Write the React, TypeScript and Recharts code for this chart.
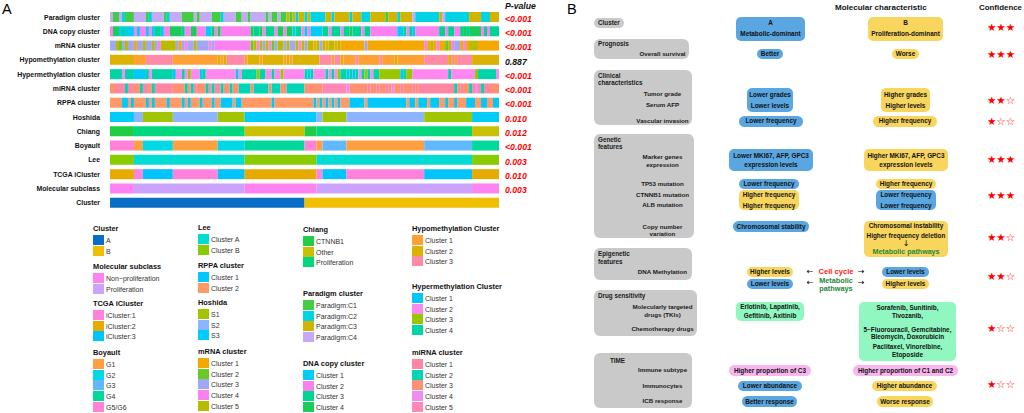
import React from 'react';
import { BarChart, Bar, XAxis, YAxis, Cell } from 'recharts';

// ---- Panel A: annotation heatmap ----
const rowNames = [
  'Paradigm cluster', 'DNA copy cluster', 'mRNA cluster', 'Hypomethylation cluster',
  'Hypermethylation cluster', 'miRNA cluster', 'RPPA cluster', 'Hoshida', 'Chiang',
  'Boyault', 'Lee', 'TCGA iCluster', 'Molecular subclass', 'Cluster',
];
const pValues = ['<0.001', '<0.001', '<0.001', '0.887', '<0.001', '<0.001', '<0.001',
  '0.010', '0.012', '<0.001', '0.003', '0.010', '0.003', ''];

// one character per sample column (130 columns), digit = cluster index
const paradigmCols = '4114211144 4412444412 4444111141 4444111244 4411441444 4414114113 1323323222 2233233333 2333222333 3313332333 3422222222 3422222222 3333222333';
const dnaCols = '2441311121 2212133122 4444322442 2211424222 2222222433 4233324424 4133212111 1332333233 4333233222 2222221132 3122222222 3323322343 4444232333';
const mrnaCols = '3352353313 3533534555 5531343353 3334344444 4444444254 5354235535 3354535515 3515515111 1111131111 1111111111 1111141514 1125433141 5551111111';
const hypoCols = '2222222211 1133333333 3111111111 1111112123 3333312222 1222222212 1222222222 3333133211 1131111111 3111121111 1111133333 3332313333 3222222222';
const hyperCols = '4444244411 1142444444 4122423222 1422222222 2212444443 4422422322 2222241422 2242423441 4142434244 3333333143 3222222222 2224222222 2234444442';
const mirnaCols = '3311121133 2113211111 1333323213 3321211233 2332222322 2223222332 2222233333 3555555554 3333331331 3313433133 3131111111 1111123133 2141211333';
const rppaCols = '2222112122 2212122221 2222121222 1222122111 1211222222 2222122222 2222222212 1212121222 1111121111 1111111112 1121112111 2212212221 1122112211';

// [cluster index, number of columns]
const hoshidaRuns: [number, number][] = [[3, 8], [2, 3], [1, 10], [2, 15], [1, 9], [3, 24], [2, 2], [1, 8], [2, 26], [1, 16], [3, 9]];
const chiangRuns: [number, number][] = [[1, 8], [3, 37], [2, 20], [1, 4], [3, 52], [2, 9]];
const boyaultRuns: [number, number][] = [[5, 8], [1, 3], [2, 10], [1, 15], [2, 9], [4, 20], [5, 4], [1, 2], [3, 8], [1, 26], [3, 16], [4, 9]];
const leeRuns: [number, number][] = [[2, 8], [1, 37], [2, 24], [1, 52], [2, 9]];
const tcgaRuns: [number, number][] = [[2, 8], [1, 3], [3, 10], [1, 15], [3, 9], [2, 24], [1, 2], [3, 8], [1, 26], [3, 16], [2, 9]];
const subclassRuns: [number, number][] = [[1, 8], [2, 37], [1, 24], [2, 52], [1, 9]];
const clusterRuns: [number, number][] = [[1, 65], [2, 65]];

const paradigmColors = ['#44cc44', '#00d4e4', '#d2b400', '#c4aaf8'];
const dnaColors = ['#00ccf5', '#fb80f0', '#00d494', '#1ccc5a'];
const mrnaColors = ['#f5a800', '#66cc22', '#a0a8f5', '#fb80f0', '#b9bb00'];
const hypoColors = ['#ffa035', '#dcb200', '#ff8aa8'];
const hyperColors = ['#00c8fa', '#ff88f0', '#99c600', '#00d5aa'];
const mirnaColors = ['#ff86a2', '#00d6b6', '#ff9072', '#ef8cf2', '#ff88b6'];
const rppaColors = ['#00c8fa', '#ff9966'];
const hoshidaColors = ['#a3c400', '#8cb4ff', '#00ccfa'];
const chiangColors = ['#22cc44', '#c8c000', '#00d87e'];
const boyaultColors = ['#ffa040', '#00d8e6', '#60b8ff', '#00d89c', '#ff82d6'];
const leeColors = ['#00dcd4', '#88cc00'];
const tcgaColors = ['#ff82dc', '#e6aa00', '#00c4fa'];
const subclassColors = ['#ff82f2', '#cca2ff'];
const clusterColors = ['#0a6ec4', '#f0c000'];

const toRuns = (s: string): [number, number][] => {
  const runs: [number, number][] = [];
  for (const ch of s.replace(/\s/g, '')) {
    const v = Number(ch);
    if (runs.length && runs[runs.length - 1][0] === v) runs[runs.length - 1][1] += 1;
    else runs.push([v, 1]);
  }
  return runs;
};

const rowRuns = [
  toRuns(paradigmCols), toRuns(dnaCols), toRuns(mrnaCols), toRuns(hypoCols), toRuns(hyperCols),
  toRuns(mirnaCols), toRuns(rppaCols), hoshidaRuns, chiangRuns, boyaultRuns, leeRuns, tcgaRuns,
  subclassRuns, clusterRuns,
];
const rowPalettes = [paradigmColors, dnaColors, mrnaColors, hypoColors, hyperColors, mirnaColors,
  rppaColors, hoshidaColors, chiangColors, boyaultColors, leeColors, tcgaColors, subclassColors, clusterColors];

const maxRuns = Math.max(...rowRuns.map((r) => r.length));
const heatData = rowNames.map((name, i) => {
  const d: Record<string, any> = { name };
  for (let k = 0; k < maxRuns; k++) d['r' + k] = rowRuns[i][k] ? rowRuns[i][k][1] : 0;
  return d;
});
const runKeys = Array.from({ length: maxRuns }, (_, k) => k);

const legendGroups = [
  { title: 'Cluster', labels: ['A', 'B'], colors: clusterColors },
  { title: 'Molecular subclass', labels: ['Non−proliferation', 'Proliferation'], colors: subclassColors },
  { title: 'TCGA iCluster', labels: ['iCluster:1', 'iCluster:2', 'iCluster:3'], colors: tcgaColors },
  { title: 'Boyault', labels: ['G1', 'G2', 'G3', 'G4', 'G5/G6'], colors: boyaultColors },
  { title: 'Lee', labels: ['Cluster A', 'Cluster B'], colors: leeColors },
  { title: 'RPPA cluster', labels: ['Cluster 1', 'Cluster 2'], colors: rppaColors },
  { title: 'Hoshida', labels: ['S1', 'S2', 'S3'], colors: hoshidaColors },
  { title: 'mRNA cluster', labels: ['Cluster 1', 'Cluster 2', 'Cluster 3', 'Cluster 4', 'Cluster 5'], colors: mrnaColors },
  { title: 'Chiang', labels: ['CTNNB1', 'Other', 'Proliferation'], colors: chiangColors },
  { title: 'Paradigm cluster', labels: ['Paradigm:C1', 'Paradigm:C2', 'Paradigm:C3', 'Paradigm:C4'], colors: paradigmColors },
  { title: 'DNA copy cluster', labels: ['Cluster 1', 'Cluster 2', 'Cluster 3', 'Cluster 4'], colors: dnaColors },
  { title: 'Hypomethylation Cluster', labels: ['Cluster 1', 'Cluster 2', 'Cluster 3'], colors: hypoColors },
  { title: 'Hypermethylation Cluster', labels: ['Cluster 1', 'Cluster 2', 'Cluster 3', 'Cluster 4'], colors: hyperColors },
  { title: 'miRNA cluster', labels: ['Cluster 1', 'Cluster 2', 'Cluster 3', 'Cluster 4', 'Cluster 5'], colors: mirnaColors },
];
// [x, title center y]
const legendPlace = [[93, 229], [93, 267], [93, 304], [93, 353], [198, 228], [198, 266], [198, 303],
  [198, 352], [303, 230], [303, 294], [303, 364], [412, 229], [412, 287], [412, 353]];

// ---- Panel B: molecular characteristics ----
const BLUE = '#5aa6e0';
const YEL = '#f8d65e';
const GRN = '#8ff7bf';
const PNK = '#f8b6ef';
const GRY = '#c9c9c9';

const confidence = [3, 3, 2, 1, 3, 3, 2, 2, 1, 1];
const confidenceY = [27, 54, 100, 121, 159, 195, 237, 276, 328, 384];

const grayBoxes = [
  { x: 594, y: 18, w: 30, h: 10 },
  { x: 594, y: 39, w: 95, h: 20 },
  { x: 594, y: 70, w: 98, h: 55 },
  { x: 594, y: 134, w: 100, h: 104 },
  { x: 594, y: 248, w: 98, h: 32 },
  { x: 594, y: 290, w: 103, h: 46 },
  { x: 594, y: 353, w: 98, h: 55 },
];
const groupTitles: [string, number, number][] = [
  ['Cluster', 598, 23], ['Prognosis', 598, 44], ['Clinical', 598, 76], ['characteristics', 598, 83],
  ['Genetic', 598, 140], ['features', 598, 147], ['Epigenetic', 598, 254], ['features', 598, 262],
  ['Drug sensitivity', 598, 296], ['TIME', 610, 361],
];
const featureLabels: [string, number][] = [
  ['Overall survival', 54], ['Tumor grade', 94], ['Serum AFP', 105], ['Vascular invasion', 121],
  ['Marker genes', 157], ['expression', 165], ['TP53 mutation', 184], ['CTNNB1 mutation', 195],
  ['ALB mutation', 205], ['Copy number', 227], ['variation', 234], ['DNA Methylation', 272],
  ['Molecularly targeted', 307], ['drugs (TKIs)', 315], ['Chemotherapy drugs', 329],
  ['Immune subtype', 370], ['Immunocytes', 386], ['ICB response', 401],
];

type Pill = { cx: number; cy: number; w: number; h: number; c: string; lines: string[]; ys?: number[]; r?: number };
const pills: Pill[] = [
  { cx: 770.5, cy: 29, w: 69, h: 24, c: BLUE, lines: ['A', 'Metabolic-dominant'], ys: [23, 34], r: 5 },
  { cx: 905.5, cy: 29, w: 75, h: 24, c: YEL, lines: ['B', 'Proliferation-dominant'], ys: [23, 34], r: 5 },
  { cx: 770, cy: 54, w: 26, h: 10, c: BLUE, lines: ['Better'] },
  { cx: 905.5, cy: 54, w: 27, h: 10, c: YEL, lines: ['Worse'] },
  { cx: 770, cy: 100, w: 46, h: 24, c: BLUE, lines: ['Lower grades', 'Lower levels'], ys: [94.5, 105.5], r: 5 },
  { cx: 905.5, cy: 100, w: 49, h: 24, c: YEL, lines: ['Higher grades', 'Higher levels'], ys: [94.5, 105.5], r: 5 },
  { cx: 771, cy: 121, w: 64, h: 11, c: BLUE, lines: ['Lower frequency'] },
  { cx: 905, cy: 121, w: 64, h: 11, c: YEL, lines: ['Higher frequency'] },
  { cx: 771, cy: 160, w: 84, h: 22, c: BLUE, lines: ['Lower MKI67, AFP, GPC3', 'expression levels'], ys: [156, 164.5], r: 5 },
  { cx: 906, cy: 160, w: 84, h: 22, c: YEL, lines: ['Higher MKI67, AFP, GPC3', 'expression levels'], ys: [156, 164.5], r: 5 },
  { cx: 769, cy: 184, w: 60, h: 10, c: BLUE, lines: ['Lower frequency'] },
  { cx: 906, cy: 184, w: 60, h: 10, c: YEL, lines: ['Higher frequency'] },
  { cx: 769, cy: 200, w: 60, h: 20, c: YEL, lines: ['Higher frequency', 'Higher frequency'], ys: [195, 205.5], r: 5 },
  { cx: 906, cy: 200, w: 60, h: 20, c: BLUE, lines: ['Lower frequency', 'Lower frequency'], ys: [195, 205.5], r: 5 },
  { cx: 771, cy: 226.5, w: 76, h: 11, c: BLUE, lines: ['Chromosomal stability'] },
  { cx: 906, cy: 239, w: 84, h: 36, c: YEL, lines: ['Chromosomal instability', 'Higher frequency deletion'], ys: [225.5, 235.5], r: 5 },
  { cx: 770, cy: 272, w: 46, h: 10, c: YEL, lines: ['Higher levels'] },
  { cx: 770, cy: 283.5, w: 46, h: 10, c: BLUE, lines: ['Lower levels'] },
  { cx: 905.5, cy: 272, w: 47, h: 10, c: BLUE, lines: ['Lower levels'] },
  { cx: 905.5, cy: 283.5, w: 47, h: 10, c: YEL, lines: ['Higher levels'] },
  { cx: 770, cy: 311.5, w: 68, h: 19, c: GRN, lines: ['Erlotinib, Lapatinib,', 'Gefitinib, Axitinib'], ys: [307, 315.5], r: 5 },
  { cx: 907.5, cy: 331.5, w: 97, h: 59, c: GRN, lines: ['Sorafenib, Sunitinib,', 'Tivozanib,', '5−Fluorouracil, Gemcitabine,', 'Bleomycin, Doxorubicin', 'Paclitaxel, Vinorelbine,', 'Etoposide'], ys: [307.5, 315.5, 329.5, 337, 347, 355], r: 5 },
  { cx: 770, cy: 370.5, w: 82, h: 11, c: PNK, lines: ['Higher proportion of C3'] },
  { cx: 905.5, cy: 370.5, w: 105, h: 11, c: PNK, lines: ['Higher proportion of C1 and C2'] },
  { cx: 770, cy: 386, w: 64, h: 10, c: BLUE, lines: ['Lower abundance'] },
  { cx: 904.5, cy: 386, w: 65, h: 10, c: YEL, lines: ['Higher abundance'] },
  { cx: 769.5, cy: 401.5, w: 55, h: 11, c: BLUE, lines: ['Better response'] },
  { cx: 905, cy: 401.5, w: 56, h: 11, c: YEL, lines: ['Worse response'] },
];

const FONT = '"Liberation Sans", Arial, Helvetica, sans-serif';
const SYM = '"DejaVu Sans", sans-serif';

// text centred vertically on y; horizontal anchor inside a wide fixed box so nothing is clipped
function Txt({ x, y, a = 'start', s = 6.4, w = 700, c = '#111', it = false, f, children }: any) {
  const box = 200;
  const left = a === 'middle' ? x - box / 2 : a === 'end' ? x - box : x;
  const align = a === 'middle' ? 'center' : a === 'end' ? 'right' : 'left';
  return (
    <div
      style={{
        position: 'absolute', left, top: y, width: box, transform: 'translateY(-50%)', textAlign: align,
        fontSize: s, fontWeight: w, color: c, whiteSpace: 'nowrap', lineHeight: 1,
        fontStyle: it ? 'italic' : 'normal', fontFamily: f || FONT,
      }}
    >
      {children}
    </div>
  );
}

const RowTick = (props: any) => {
  const { y, payload } = props;
  const p = pValues[rowNames.indexOf(payload.value)];
  return (
    <g>
      <text x={100} y={y} dy="0.36em" textAnchor="end" fill="#111"
        style={{ fontFamily: FONT, fontSize: 6.9, fontWeight: 700 }}>
        {payload.value}
      </text>
      {p ? (
        <text x={505} y={y + 1.5} dy="0.36em" fill={p === '0.887' ? '#111' : '#ff0000'}
          style={{ fontFamily: FONT, fontSize: 8.7, fontWeight: 700, fontStyle: 'italic' }}>
          {p}
        </text>
      ) : null}
    </g>
  );
};

function Heatmap() {
  return (
    <div style={{ position: 'absolute', left: 0, top: 0 }}>
      <BarChart width={545} height={215} data={heatData} layout="vertical"
        margin={{ top: 10, right: 46, bottom: 5, left: 0 }}>
        <XAxis type="number" domain={[0, 130]} hide />
        <YAxis type="category" dataKey="name" width={110} axisLine={false} tickLine={false}
          interval={0} tick={<RowTick />} />
        {runKeys.map((k) => (
          <Bar key={k} dataKey={'r' + k} stackId="s" barSize={10} isAnimationActive={false}>
            {heatData.map((_, i) => {
              const run = rowRuns[i][k];
              return <Cell key={i} fill={run ? rowPalettes[i][run[0] - 1] : 'none'} />;
            })}
          </Bar>
        ))}
      </BarChart>
    </div>
  );
}

function HeatLegend() {
  return (
    <>
      {legendGroups.map((g, gi) => {
        const [x, ty] = legendPlace[gi];
        return (
          <React.Fragment key={gi}>
            <Txt x={x} y={ty} s={7.4} c="#111">{g.title}</Txt>
            {g.labels.map((lab, li) => {
              const cy = ty + 11 + li * 10.7;
              return (
                <React.Fragment key={li}>
                  <div style={{ position: 'absolute', left: x, top: cy - 5.1, width: 10.5, height: 10.2, background: g.colors[li] }} />
                  <Txt x={x + 13} y={cy} s={7} w={400} c="#333">{lab}</Txt>
                </React.Fragment>
              );
            })}
          </React.Fragment>
        );
      })}
    </>
  );
}

function PanelB() {
  return (
    <>
      <Txt x={835} y={8} s={8} c="#111">Molecular characteristic</Txt>
      <Txt x={1022} y={8} a="end" s={7.9} c="#111">Confidence</Txt>
      {grayBoxes.map((b, i) => (
        <div key={i} style={{ position: 'absolute', left: b.x, top: b.y, width: b.w, height: b.h, background: GRY, borderRadius: b.h < 12 ? 5 : 6 }} />
      ))}
      {groupTitles.map(([t, x, y], i) => (
        <Txt key={i} x={x} y={y} s={6.3} c="#1a1a1a">{t}</Txt>
      ))}
      {featureLabels.map(([t, y], i) => (
        <Txt key={i} x={662.5} y={y} a="middle" s={6.2} c="#1a1a1a">{t}</Txt>
      ))}
      {pills.map((p, i) => (
        <React.Fragment key={i}>
          <div style={{ position: 'absolute', left: p.cx - p.w / 2, top: p.cy - p.h / 2, width: p.w, height: p.h, background: p.c, borderRadius: p.r ?? p.h / 2 }} />
          {p.lines.map((ln, li) => (
            <Txt key={li} x={p.cx} y={p.ys ? p.ys[li] : p.cy} a="middle" s={6.4} c="#111">{ln}</Txt>
          ))}
        </React.Fragment>
      ))}
      <Txt x={906} y={243.5} a="middle" s={8} w={400} c="#000" f={SYM}>↓</Txt>
      <Txt x={906} y={252.5} a="middle" s={7.1} c="#23873a">Metabolic pathways</Txt>
      <Txt x={836} y={272} a="middle" s={7.6} c="#ff1a1a">Cell cycle</Txt>
      <Txt x={836} y={281} a="middle" s={7.3} c="#23873a">Metabolic</Txt>
      <Txt x={836} y={288.5} a="middle" s={7.3} c="#23873a">pathways</Txt>
      <Txt x={810} y={272} a="middle" s={8} w={400} c="#000" f={SYM}>←</Txt>
      <Txt x={861} y={272} a="middle" s={8} w={400} c="#000" f={SYM}>→</Txt>
      <Txt x={810} y={283} a="middle" s={8} w={400} c="#000" f={SYM}>←</Txt>
      <Txt x={861} y={283} a="middle" s={8} w={400} c="#000" f={SYM}>→</Txt>
      {confidence.map((n, i) => (
        <Txt key={i} x={1001} y={confidenceY[i]} a="middle" s={10.5} w={400} c="#ff0000" f={SYM}>
          {'★'.repeat(n) + '☆'.repeat(3 - n)}
        </Txt>
      ))}
    </>
  );
}

export default function App() {
  return (
    <div style={{ position: 'absolute', left: 0, top: 0, width: 1024, height: 413, background: '#fff', overflow: 'hidden', fontFamily: FONT }}>
      <Txt x={2} y={8.5} s={14.5} w={400} c="#000">A</Txt>
      <Txt x={567} y={8.5} s={14.5} w={400} c="#000">B</Txt>
      <Txt x={505} y={5.5} s={8.7} it c="#111">P-value</Txt>
      <Heatmap />
      <HeatLegend />
      <PanelB />
    </div>
  );
}
